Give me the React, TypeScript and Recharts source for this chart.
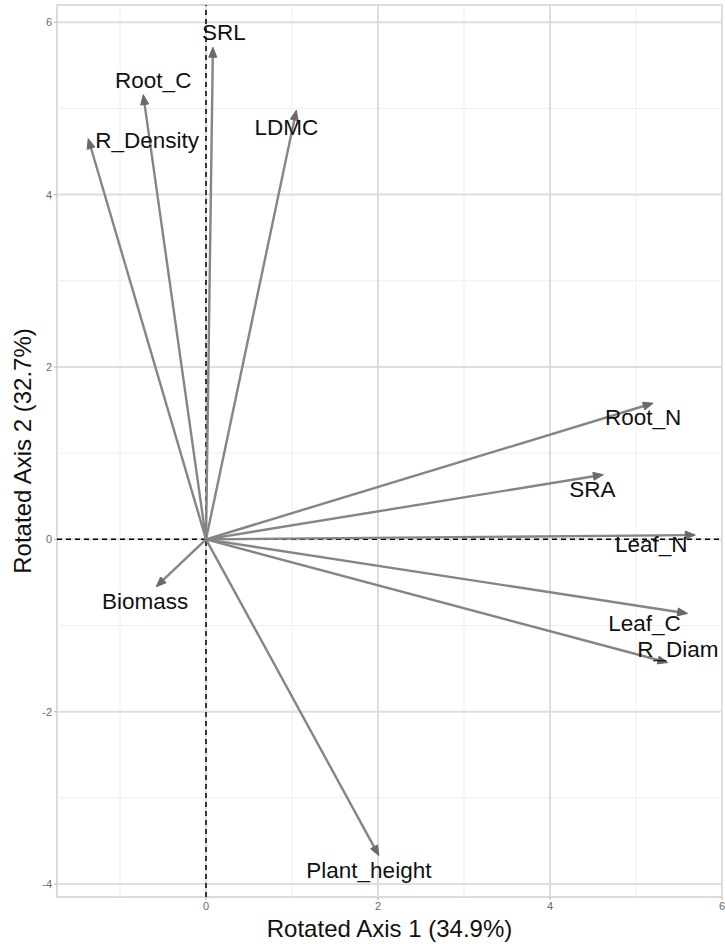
import React from 'react';
import { ScatterChart, Scatter, XAxis, YAxis, ReferenceLine, ReferenceArea } from 'recharts';

// loadings of each trait on the two rotated axes (arrow tips)
const TRAITS = ['SRL', 'Root_C', 'R_Density', 'LDMC', 'Root_N', 'SRA', 'Leaf_N', 'Leaf_C', 'R_Diam', 'Biomass', 'Plant_height'];
const AXIS1 = [0.08, -0.73, -1.37, 1.05, 5.2, 4.62, 5.69, 5.6, 5.37, -0.58, 2.01];
const AXIS2 = [5.71, 5.16, 4.65, 4.98, 1.58, 0.75, 0.05, -0.86, -1.43, -0.55, -3.67];

const X_TICKS = [0, 2, 4, 6];
const Y_TICKS = [-4, -2, 0, 2, 4, 6];
const X_MINOR = [-1, 1, 3, 5];
const Y_MINOR = [-3, -1, 1, 3, 5];

const X_DOMAIN: [number, number] = [-1.733, 6.0];
const Y_DOMAIN: [number, number] = [-4.15, 6.2];

// pixel nudges for the trait labels, relative to the arrow tip
const LABEL_NUDGE: [number, number][] = [
  [11, -15], [10, -14], [59, 2], [-10, 17], [-10, 14], [-11, 15],
  [-44, 9], [-43, 10], [10, -13], [-11, 15], [-10, 15],
];

const FONT = '"Liberation Sans", Arial, Helvetica, sans-serif';

const points = TRAITS.map((name, i) => ({ name, x: AXIS1[i], y: AXIS2[i], i }));

const Arrow = (p: any) => {
  const { x1, y1, x2, y2 } = p;
  const dx = x2 - x1;
  const dy = y2 - y1;
  const len = Math.hypot(dx, dy) || 1;
  const ux = dx / len;
  const uy = dy / len;
  const hl = 10;
  const hw = 4;
  const bx = x2 - ux * hl;
  const by = y2 - uy * hl;
  const pts = `${x2},${y2} ${bx - uy * hw},${by + ux * hw} ${bx + uy * hw},${by - ux * hw}`;
  return (
    <g>
      <line x1={x1} y1={y1} x2={bx + ux * 2} y2={by + uy * 2} stroke="#858585" strokeWidth={2.4} />
      <polygon points={pts} fill="#6a6a6a" stroke="#6a6a6a" strokeWidth={1} strokeLinejoin="round" />
    </g>
  );
};

const TraitLabel = (p: any) => {
  const { cx, cy, payload } = p;
  const [nx, ny] = LABEL_NUDGE[payload.i];
  return (
    <text
      x={cx + nx}
      y={cy + ny}
      textAnchor="middle"
      dominantBaseline="central"
      fontSize={22.5}
      fontFamily={FONT}
      fill="#111"
    >
      {payload.name}
    </text>
  );
};

const YTitle = (p: any) => {
  const vb = p.viewBox || {};
  const cx = 22;
  const cy = (vb.y ?? 0) + (vb.height ?? 0) / 2;
  return (
    <text
      x={cx}
      y={cy}
      transform={`rotate(-90, ${cx}, ${cy})`}
      textAnchor="middle"
      dominantBaseline="central"
      fontSize={24}
      fontFamily={FONT}
      fill="#111"
    >
      Rotated Axis 2 (32.7%)
    </text>
  );
};

const XTitle = (p: any) => {
  const vb = p.viewBox || {};
  const cx = (vb.x ?? 0) + (vb.width ?? 0) / 2;
  return (
    <text x={cx} y={928} textAnchor="middle" dominantBaseline="central" fontSize={24} fontFamily={FONT} fill="#111">
      Rotated Axis 1 (34.9%)
    </text>
  );
};

const tickStyle = { fontSize: 11, fill: '#6b6b6b', fontFamily: FONT };

const App: React.FC = () => {
  return (
    <div style={{ position: 'absolute', left: 0, top: 0, background: '#fff' }}>
      <ScatterChart width={725} height={944} margin={{ top: 5, right: 3, bottom: 0, left: 0 }}>
        <XAxis
          type="number"
          dataKey="x"
          domain={X_DOMAIN}
          allowDataOverflow
          ticks={X_TICKS}
          tick={tickStyle}
          tickSize={3}
          tickLine={{ stroke: '#b3b3b3' }}
          axisLine={false}
          height={47}
          label={<XTitle />}
        />
        <YAxis
          type="number"
          dataKey="y"
          domain={Y_DOMAIN}
          allowDataOverflow
          ticks={Y_TICKS}
          tick={tickStyle}
          tickSize={3}
          tickLine={{ stroke: '#b3b3b3' }}
          axisLine={false}
          width={57}
          label={<YTitle />}
        />
        {X_MINOR.map((v) => (
          <ReferenceLine key={`xm${v}`} x={v} stroke="#efefef" strokeWidth={1} />
        ))}
        {Y_MINOR.map((v) => (
          <ReferenceLine key={`ym${v}`} y={v} stroke="#efefef" strokeWidth={1} />
        ))}
        {X_TICKS.map((v) => (
          <ReferenceLine key={`xM${v}`} x={v} stroke="#dedede" strokeWidth={2} />
        ))}
        {Y_TICKS.map((v) => (
          <ReferenceLine key={`yM${v}`} y={v} stroke="#dedede" strokeWidth={2} />
        ))}
        <ReferenceArea
          x1={X_DOMAIN[0]}
          x2={X_DOMAIN[1]}
          y1={Y_DOMAIN[0]}
          y2={Y_DOMAIN[1]}
          fill="none"
          fillOpacity={0}
          stroke="#d0d0d0"
          strokeWidth={1.5}
        />
        <ReferenceLine x={0} stroke="#000" strokeWidth={1.5} strokeDasharray="5 4" />
        <ReferenceLine y={0} stroke="#000" strokeWidth={1.5} strokeDasharray="5 4" />
        {points.map((pt) => (
          <ReferenceLine
            key={pt.name}
            segment={[{ x: 0, y: 0 }, { x: pt.x, y: pt.y }]}
            shape={<Arrow />}
          />
        ))}
        <Scatter data={points} isAnimationActive={false} shape={<TraitLabel />} />
      </ScatterChart>
    </div>
  );
};

export default App;
